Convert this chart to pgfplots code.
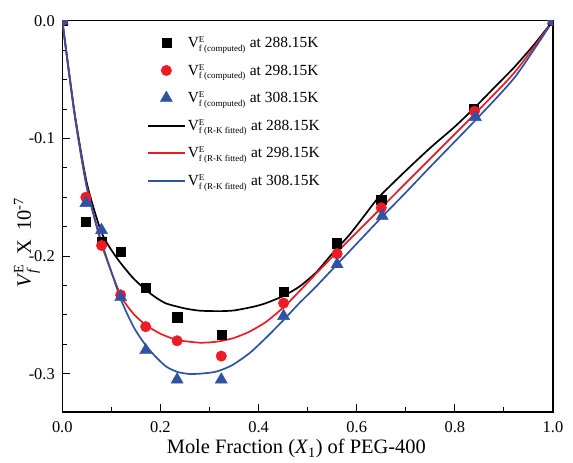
\documentclass[border=0pt]{standalone}
\usepackage{amsmath}
\usepackage{fontspec}
\setmainfont{Liberation Serif}
\usepackage{pgfplots}
\pgfplotsset{compat=1.18}
\definecolor{cRed}{HTML}{ED1C24}
\definecolor{cBlue}{HTML}{2F52A3}
\newcommand\legtxt[2]{V$^{\mbox{\fontsize{9}{9}\selectfont E}}_{\mbox{\fontsize{9}{9}\selectfont #1}}$ at #2}
\pgfplotsset{
    linelegend/.style={legend image code/.code={\draw[##1] (-0.35cm,0cm) -- (0.95cm,0cm);}},
    markslegend/.style={legend image code/.code={\draw[##1] plot coordinates {(0.3cm,0cm)};}},
}
\begin{document}
\begin{tikzpicture}
\path[use as bounding box] (-62.3bp,-51bp) rectangle (510.7bp,412bp);
\begin{axis}[
    at={(0,0)}, anchor=south west,
    scale only axis,
    width=490.7bp, height=391.3bp,
    xmin=0, xmax=1, ymin=-0.3325, ymax=0,
    xtick={0,0.2,0.4,0.6,0.8,1.0},
    ytick={-0.3,-0.2,-0.1,0.0},
    minor x tick num=1,
    minor y tick num=3,
    tick align=inside,
    xtick pos=bottom, ytick pos=left,
    major tick length=8bp, minor tick length=5bp,
    axis line style={line width=1.1pt},
    tick style={line width=0.9pt, black},
    /pgf/number format/assume math mode=true,
    xticklabel style={font=\fontsize{16.5}{18}\selectfont, yshift=-6bp, /pgf/number format/.cd, fixed, fixed zerofill, precision=1},
    yticklabel style={font=\fontsize{16.5}{18}\selectfont, xshift=-4bp, /pgf/number format/.cd, fixed, fixed zerofill, precision=1},
    xlabel={Mole Fraction (\textit{X}$_{\text{1}}$) of PEG-400},
    xlabel style={font=\fontsize{20.5}{22}\selectfont, at={(axis description cs:0.477,0)}, anchor=north, yshift=-24bp},
    ylabel={\textit{V}$^{\text{E}}_{\text{\itshape f}}$\hspace{0.45em}X\hspace{0.45em}10$^{\text{-7}}$},
    ylabel style={font=\fontsize{20.5}{22}\selectfont, at={(axis description cs:-0.072,0.432)}, anchor=center},
    clip marker paths=true,
    legend cell align=left,
    legend style={draw=none, fill=none, at={(0.166,0.97)}, anchor=north west,
        font=\fontsize{15.5}{17}\selectfont, row sep=11bp},
]
\addlegendimage{markslegend, draw=none, mark=square*, mark size=4.6pt, mark options={draw=black, fill=black}}
\addlegendimage{markslegend, draw=none, mark=*, mark size=5.3pt, mark options={draw=cRed, fill=cRed}}
\addlegendimage{markslegend, draw=none, mark=triangle*, mark size=7pt, mark options={draw=cBlue, fill=cBlue}}
\addlegendimage{linelegend, draw=black, line width=2pt}
\addlegendimage{linelegend, draw=cRed, line width=1.8pt}
\addlegendimage{linelegend, draw=cBlue, line width=1.8pt}
\legend{\legtxt{f (computed)}{288.15K},\legtxt{f (computed)}{298.15K},\legtxt{f (computed)}{308.15K},
        \legtxt{f (R-K fitted)}{288.15K},\legtxt{f (R-K fitted)}{298.15K},\legtxt{f (R-K fitted)}{308.15K}}

% fitted curves
\addplot[black, line width=1.7pt, smooth, tension=0.4, forget plot] coordinates {
    (0,0) (0.025,-0.078) (0.05,-0.138) (0.08,-0.180) (0.11,-0.201) (0.145,-0.219)
    (0.18,-0.232) (0.21,-0.240) (0.25,-0.2445) (0.28,-0.2464) (0.32,-0.2468) (0.35,-0.2462)
    (0.39,-0.243) (0.415,-0.240) (0.45,-0.234) (0.483,-0.226) (0.517,-0.214) (0.55,-0.198)
    (0.585,-0.182) (0.615,-0.166) (0.645,-0.150) (0.70,-0.1275) (0.75,-0.108) (0.80,-0.090)
    (0.84,-0.074) (0.88,-0.057) (0.92,-0.040) (0.96,-0.021) (1.0,0)
};
\addplot[cRed, line width=1.7pt, smooth, tension=0.4, forget plot] coordinates {
    (0,0) (0.025,-0.079) (0.05,-0.141) (0.08,-0.190) (0.1186,-0.233) (0.145,-0.249)
    (0.17,-0.2585) (0.2,-0.266) (0.2344,-0.2713) (0.28,-0.2736) (0.3137,-0.2728) (0.3474,-0.2699)
    (0.38,-0.2645) (0.415,-0.2560) (0.451,-0.2435) (0.483,-0.230) (0.517,-0.2150) (0.5575,-0.1976)
    (0.5845,-0.1863) (0.649,-0.1594) (0.70,-0.138) (0.747,-0.1184) (0.8385,-0.0801) (0.923,-0.0433)
    (1,0)
};
\addplot[cBlue, line width=1.7pt, smooth, tension=0.4, forget plot] coordinates {
    (0,0) (0.025,-0.080) (0.05,-0.142) (0.08,-0.188) (0.1186,-0.2359) (0.145,-0.260)
    (0.168,-0.2747) (0.19,-0.2855) (0.2121,-0.294) (0.235,-0.2985) (0.2594,-0.3002) (0.285,-0.2998)
    (0.3137,-0.2982) (0.345,-0.293) (0.3813,-0.2826) (0.415,-0.2695) (0.451,-0.2543) (0.483,-0.240)
    (0.517,-0.226) (0.5587,-0.2076) (0.5845,-0.1963) (0.652,-0.1665) (0.70,-0.146) (0.747,-0.1254)
    (0.842,-0.0845) (0.923,-0.0476) (1,0)
};

% computed points
\addplot[only marks, mark=square*, mark size=4.6pt, mark options={draw=black, fill=black}, forget plot] coordinates {
    (0,0) (0.048,-0.171) (0.080,-0.188) (0.119,-0.196) (0.170,-0.227) (0.234,-0.252)
    (0.324,-0.267) (0.451,-0.230) (0.560,-0.189) (0.650,-0.152) (0.839,-0.075) (1,0)
};
\addplot[only marks, mark=*, mark size=5.3pt, mark options={draw=cRed, fill=cRed}, forget plot] coordinates {
    (0,0) (0.048,-0.150) (0.080,-0.191) (0.119,-0.233) (0.170,-0.260) (0.234,-0.272)
    (0.324,-0.285) (0.451,-0.240) (0.560,-0.198) (0.650,-0.159) (0.840,-0.077) (1,0)
};
\addplot[only marks, mark=triangle*, mark size=7pt, mark options={draw=cBlue, fill=cBlue}, forget plot] coordinates {
    (0,0) (0.048,-0.155) (0.080,-0.178) (0.119,-0.235) (0.170,-0.280) (0.234,-0.305)
    (0.324,-0.305) (0.451,-0.251) (0.560,-0.207) (0.652,-0.166) (0.842,-0.082) (1,0)
};
\end{axis}
\end{tikzpicture}
\end{document}
